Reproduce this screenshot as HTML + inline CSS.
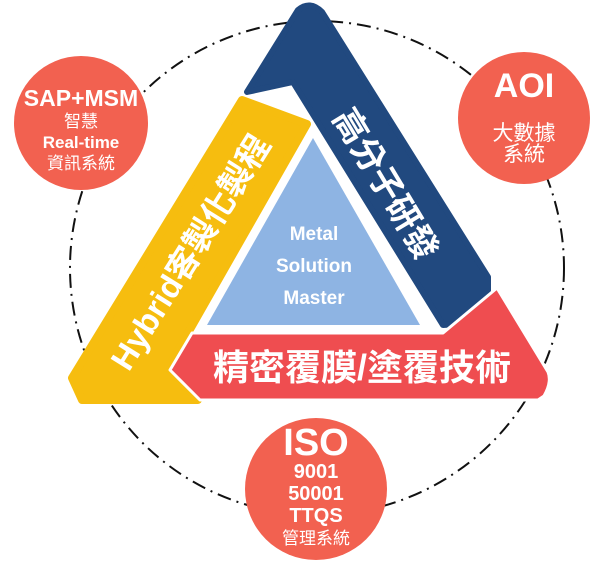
<!DOCTYPE html>
<html><head><meta charset="utf-8"><style>
html,body{margin:0;padding:0;background:#fff;}
svg{display:block}
text{font-family:"Liberation Sans","Noto Sans CJK TC",sans-serif;fill:#fff;text-anchor:middle;}
</style></head><body>
<svg width="600" height="564" viewBox="0 0 600 564" xmlns="http://www.w3.org/2000/svg">
<circle cx="317" cy="268" r="247" fill="none" stroke="#111" stroke-width="2" stroke-dasharray="14 6 2 6"/>
<path d="M242,100 L307,124 L168,368 L198,400 L82,400 L72,378 Z" fill="#f6bd0f" stroke="#f6bd0f" stroke-width="8" stroke-linejoin="round"/>
<path d="M247,92 L293,82 L443,325 L488,322 L488,277 L322,12 Q310,0 298,10 Z" fill="#21497f" stroke="#21497f" stroke-width="6" stroke-linejoin="round"/>
<path d="M170,370 L192,333 L443,333 L497,288 L548,372 Q552,382 544,396 L538,400 L200,400 Z" fill="#ef4d50" stroke="#fff" stroke-width="3" stroke-linejoin="round"/>
<path d="M313,138 L420,325 L207,325 Z" fill="#8eb4e3"/>
<text x="314" y="240" font-size="19" font-weight="bold">Metal</text>
<text x="314" y="272" font-size="19" font-weight="bold">Solution</text>
<text x="314" y="304" font-size="19" font-weight="bold">Master</text>
<text x="362" y="380" font-size="36" font-weight="bold">精密覆膜/塗覆技術</text>
<text transform="translate(386,184) rotate(59)" font-size="34" dy="12" font-weight="bold">高分子研發</text>
<text transform="translate(190,252) rotate(-58)" font-size="33" dy="12" font-weight="bold">Hybrid客製化製程</text>
<circle cx="81" cy="123" r="67" fill="#f26150"/>
<text x="81" y="106" font-size="23" font-weight="bold">SAP+MSM</text>
<text x="81" y="127" font-size="17">智慧</text>
<text x="81" y="148" font-size="17" font-weight="bold">Real-time</text>
<text x="81" y="169" font-size="17">資訊系統</text>
<circle cx="524" cy="118" r="66" fill="#f26150"/>
<text x="524" y="97" font-size="34" font-weight="bold">AOI</text>
<text x="524" y="140" font-size="21">大數據</text>
<text x="524" y="161" font-size="21">系統</text>
<circle cx="316" cy="489" r="71" fill="#f26150"/>
<text x="316" y="455" font-size="38" font-weight="bold">ISO</text>
<text x="316" y="478" font-size="20" font-weight="bold">9001</text>
<text x="316" y="500" font-size="20" font-weight="bold">50001</text>
<text x="316" y="522" font-size="20" font-weight="bold">TTQS</text>
<text x="316" y="544" font-size="17">管理系統</text>
</svg>
</body></html>
